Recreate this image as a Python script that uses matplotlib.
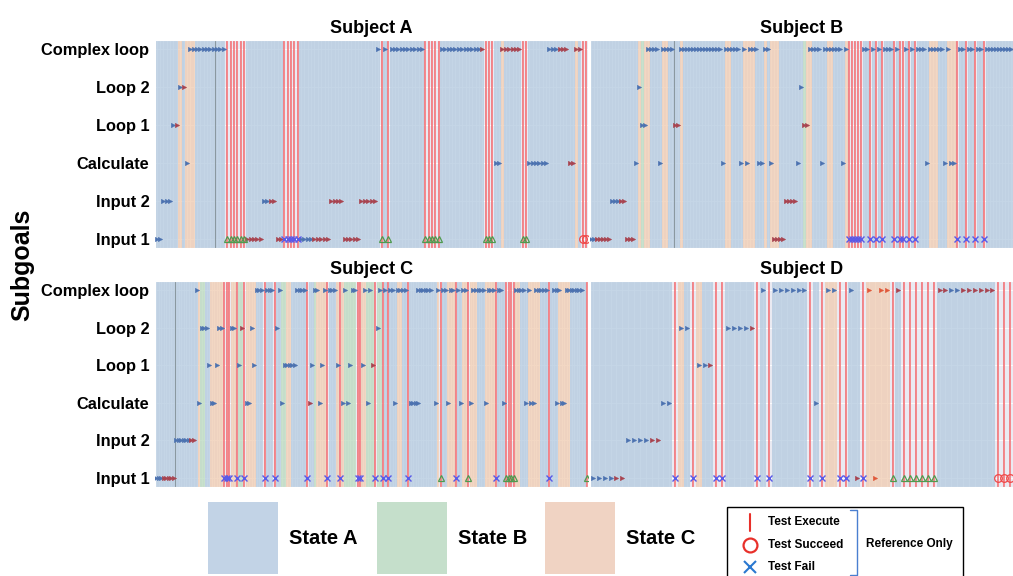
import matplotlib.pyplot as plt
import seaborn as sns

sns.set_style("darkgrid")
plt.rcParams["font.family"] = ["Liberation Sans", "DejaVu Sans"]
plt.rcParams["text.color"] = "black"
plt.rcParams["ytick.color"] = "black"

SUBGOALS = ["Input 1", "Input 2", "Calculate", "Loop 1", "Loop 2", "Complex loop"]
SUBJECTS = ["Subject A", "Subject B", "Subject C", "Subject D"]
STATES = ["State A", "State B", "State C"]

# --- Subject A -------------------------------------------------------------
# moves: (first step, subgoal row, colour per step)  b=blue r=red o=orange
a_steps = 129
a_moves = [(0, 0, "bb"), (2, 1, "bbb"), (5, 3, "br"), (7, 4, "br"), (9, 2, "b"),
           (10, 5, "bbbbbbbbbbb"), (27, 0, "rrrrr"), (32, 1, "bbrr"), (36, 0, "rr"),
           (43, 0, "bbbbrrrrr"), (52, 1, "rrrr"), (56, 0, "rrrrr"), (61, 1, "rrrrr"),
           (66, 5, "b"), (68, 5, "b"), (70, 5, "bbbbbbbbbb"), (85, 5, "bbbbbbbbbbbbr"),
           (101, 2, "bb"), (103, 5, "rrrrrr"), (111, 2, "bbbbbb"), (117, 5, "bbbrrr"),
           (123, 2, "rr"), (125, 5, "rr")]
a_fail = [38, 39, 40, 41, 42]
a_pass = [21, 22, 23, 24, 25, 26, 67, 69, 80, 81, 82, 83, 84, 98, 99, 100, 109, 110]
a_ref = [127, 128]
a_state_b = []
a_state_c = [(7, 7), (9, 11), (103, 103), (125, 125)]
a_marks = [17.5]

# --- Subject B -------------------------------------------------------------
b_steps = 141
b_moves = [(0, 0, "bbrrrrr"), (7, 1, "bbbrr"), (12, 0, "rrr"), (15, 2, "b"), (16, 4, "b"),
           (17, 3, "bb"), (19, 5, "bbbb"), (23, 2, "b"), (24, 5, "bbbb"), (28, 3, "rr"),
           (30, 5, "bbbbbbbbbbbbbb"), (44, 2, "b"), (45, 5, "bbbbb"), (50, 2, "b"),
           (51, 5, "b"), (52, 2, "b"), (53, 5, "bbb"), (56, 2, "bb"), (58, 5, "bb"),
           (60, 2, "b"), (61, 0, "rrrr"), (65, 1, "rrrr"), (69, 2, "b"), (70, 4, "b"),
           (71, 3, "rr"), (73, 5, "bbbb"), (77, 2, "b"), (78, 5, "bbbbbb"), (84, 2, "b"),
           (85, 5, "b"), (91, 5, "bb"), (94, 5, "b"), (96, 5, "b"), (98, 5, "bbb"),
           (102, 5, "b"), (105, 5, "b"), (107, 5, "b"), (109, 5, "bbb"), (112, 2, "b"),
           (113, 5, "bbbbb"), (118, 2, "b"), (119, 5, "b"), (120, 2, "bb"), (123, 5, "bb"),
           (126, 5, "bb"), (129, 5, "bb"), (132, 5, "bbbbbbbbb")]
b_fail = [86, 87, 88, 89, 90, 93, 95, 97, 101, 103, 104, 106, 108, 122, 125, 128, 131]
b_pass = []
b_ref = []
b_state_b = [(17, 17), (71, 71)]
b_state_c = [(16, 16), (18, 19), (24, 25), (30, 30), (45, 46), (51, 54), (58, 58),
             (60, 62), (72, 73), (79, 80), (85, 85), (113, 115), (119, 121)]
b_marks = [27.5]

# --- Subject C -------------------------------------------------------------
c_steps = 172
c_moves = [(0, 0, "bbbrrrrr"), (8, 1, "bbbbbbrr"),
           (16, 5, "b"), (40, 5, "bbb"), (44, 5, "bbb"), (49, 5, "b"), (56, 5, "bbbb"),
           (63, 5, "bb"), (67, 5, "b"), (69, 5, "bbb"), (75, 5, "b"), (78, 5, "bb"),
           (83, 5, "b"), (85, 5, "b"), (89, 5, "b"), (91, 5, "b"), (93, 5, "bb"),
           (96, 5, "bbbb"), (104, 5, "bbbbbb"), (112, 5, "b"), (114, 5, "bb"),
           (117, 5, "bb"), (120, 5, "b"), (122, 5, "bb"), (126, 5, "bbbbb"),
           (132, 5, "bbb"), (136, 5, "bb"), (143, 5, "bbbb"), (148, 5, "b"),
           (151, 5, "bbbbb"), (158, 5, "bb"), (160, 5, "b"), (163, 5, "bbbbbbb"),
           (18, 4, "bbb"), (25, 4, "bb"), (30, 4, "bb"), (34, 4, "r"), (38, 4, "b"),
           (48, 4, "b"), (88, 4, "b"),
           (21, 3, "b"), (24, 3, "b"), (33, 3, "b"), (39, 3, "b"), (51, 3, "bbbbb"),
           (62, 3, "b"), (66, 3, "b"), (72, 3, "b"), (77, 3, "b"), (82, 3, "b"), (86, 3, "r"),
           (17, 2, "b"), (22, 2, "bb"), (36, 2, "bb"), (50, 2, "b"), (61, 2, "r"),
           (65, 2, "b"), (74, 2, "b"), (76, 2, "b"), (84, 2, "b"), (95, 2, "b"),
           (101, 2, "bbbb"), (111, 2, "b"), (116, 2, "b"), (121, 2, "b"), (125, 2, "b"),
           (131, 2, "b"), (138, 2, "b"), (147, 2, "b"), (149, 2, "bb"), (159, 2, "b"),
           (161, 2, "bb")]
c_fail = [27, 28, 29, 32, 35, 43, 47, 60, 68, 73, 80, 81, 87, 90, 92, 100, 119, 135, 156]
c_pass = [113, 124, 139, 140, 141, 142, 171]
c_ref = []
c_state_b = [(18, 19), (33, 34), (50, 51), (63, 63), (75, 79), (84, 89)]
c_state_c = [(17, 17), (22, 26), (30, 31), (36, 39), (52, 53), (64, 67), (72, 74),
             (82, 83), (96, 97), (112, 112), (116, 118), (122, 123), (125, 127),
             (131, 134), (142, 144), (148, 152), (160, 164)]
c_marks = [7.5]

# --- Subject D -------------------------------------------------------------
d_steps = 72
d_moves = [(0, 0, "bbbbrr"), (6, 1, "bbbbrr"), (12, 2, "bb"), (15, 4, "bb"), (18, 3, "bbr"),
           (23, 4, "bbbbr"), (29, 5, "b"), (31, 5, "bbbbbb"), (38, 2, "b"), (40, 5, "bb"),
           (44, 5, "b"), (45, 0, "r"), (47, 5, "o"), (48, 0, "o"), (49, 5, "oo"),
           (52, 5, "r"), (59, 5, "rrbbrrrrrr")]
d_fail = [14, 17, 21, 22, 28, 30, 37, 39, 42, 43, 46]
d_pass = [51, 53, 54, 55, 56, 57, 58]
d_ref = [69, 70, 71]
d_state_b = []
d_state_c = [(15, 15), (18, 18), (40, 41), (47, 50)]
d_marks = []

MOVE_COLORS = {"b": "#4c72b0", "r": "#a8434f", "o": "#e0583a"}
STATE_COLORS = ["#b2c9df", "#b9d9bd", "#f0cbb0"]

panels = [
    (a_steps, a_moves, a_fail, a_pass, a_ref, a_state_b, a_state_c, a_marks),
    (b_steps, b_moves, b_fail, b_pass, b_ref, b_state_b, b_state_c, b_marks),
    (c_steps, c_moves, c_fail, c_pass, c_ref, c_state_b, c_state_c, c_marks),
    (d_steps, d_moves, d_fail, d_pass, d_ref, d_state_b, d_state_c, d_marks),
]
boxes = [[0.153, 0.5694, 0.4275, 0.3612], [0.5824, 0.5694, 0.4176, 0.3612],
         [0.153, 0.1545, 0.4275, 0.3577], [0.5824, 0.1545, 0.4176, 0.3577]]


def state_per_step(n, tests, state_b, state_c):
    states = [0] * n
    for lo, hi in state_b:
        for s in range(lo, hi + 1):
            states[s] = 1
    for lo, hi in state_c:
        for s in range(lo, hi + 1):
            states[s] = 2
    for s in tests:
        states[s] = None
    return states


def draw_panel(ax, title, n, moves, fail, passed, ref, state_b, state_c, marks, show_labels):
    tests = sorted(set(fail + passed + ref))
    states = state_per_step(n, tests, state_b, state_c)
    # merge runs of equal state into one span
    start = 0
    for s in range(1, n + 1):
        if s == n or states[s] != states[start]:
            if states[start] is not None:
                ax.axvspan(start - 0.5, s - 0.5, color=STATE_COLORS[states[start]],
                           alpha=0.75, lw=0, zorder=1)
            start = s
    for s in tests:
        ax.axvline(s, color="#f2575c", lw=1.1, alpha=0.9, zorder=2)
    for m in marks:
        ax.axvline(m, color="#7d8a8f", lw=0.8, alpha=0.8, zorder=2)
    for first, row, cols in moves:
        for i, c in enumerate(cols):
            ax.plot(first + i, row, marker=">", ms=3.2, color=MOVE_COLORS[c],
                    mec=MOVE_COLORS[c], mew=0.3, ls="none", zorder=4)
    ax.plot(fail, [0] * len(fail), "x", ms=4.5, mew=1.0, color="#5a5ae8", zorder=5)
    ax.plot(passed, [0] * len(passed), "^", ms=5, mew=0.9, mfc="none", mec="#4f9a4f", zorder=5)
    ax.plot(ref, [0] * len(ref), "o", ms=5.5, mew=0.9, mfc="none", mec="#f04848", zorder=5)

    ax.set_xlim(-0.5, n - 0.5)
    ax.set_ylim(-0.25, 5.25)
    ax.set_xticks(range(n))
    ax.set_xticklabels([])
    ax.tick_params(axis="x", length=0)
    ax.grid(True, color="white", lw=0.6)
    ax.set_yticks(range(len(SUBGOALS)))
    if show_labels:
        ax.set_yticklabels(SUBGOALS, fontsize=11.8, fontweight="bold")
    else:
        ax.set_yticklabels([])
    ax.tick_params(axis="y", length=0, pad=4)
    ax.set_title(title, fontsize=13, fontweight="bold", pad=5)


fig = plt.figure(figsize=(10.13, 5.76), dpi=100)
for i, (title, data, box) in enumerate(zip(SUBJECTS, panels, boxes)):
    ax = fig.add_axes(box)
    draw_panel(ax, title, *data, show_labels=(i % 2 == 0))

fig.text(0.022, 0.54, "Subgoals", rotation=90, fontsize=18, fontweight="bold",
         ha="center", va="center")

# legend drawn in pixel coordinates over the whole figure
lg = fig.add_axes([0, 0, 1, 1], facecolor="none")
lg.set_xlim(0, 1013)
lg.set_ylim(576, 0)
lg.axis("off")
patch_x = [208, 377, 545]
patch_cols = ["#c2d3e6", "#c5dfcb", "#f0d3c3"]
for x, col, label in zip(patch_x, patch_cols, STATES):
    lg.add_patch(plt.Rectangle((x, 502), 70, 72, color=col, lw=0))
    lg.text(x + 81, 538, label, fontsize=14.5, fontweight="bold", va="center", ha="left")
lg.add_patch(plt.Rectangle((727, 507), 236, 75, fill=False, ec="black", lw=1.0))
lg.plot([750, 750], [514, 531], color="#e8302a", lw=1.5)
lg.plot(750, 545, "o", ms=10, mfc="none", mec="#e8302a", mew=1.6)
lg.plot(750, 567, "x", ms=9, color="#2a78d0", mew=1.5)
for y, label in zip([522, 545, 567], ["Test Execute", "Test Succeed", "Test Fail"]):
    lg.text(768, y, label, fontsize=8.5, fontweight="bold", va="center", ha="left")
lg.plot([850, 857, 857, 850], [510, 510, 575, 575], color="#4a7fd0", lw=1.0)
lg.text(866, 544, "Reference Only", fontsize=8.5, fontweight="bold", va="center", ha="left")

fig.savefig("out.png", dpi=100)
